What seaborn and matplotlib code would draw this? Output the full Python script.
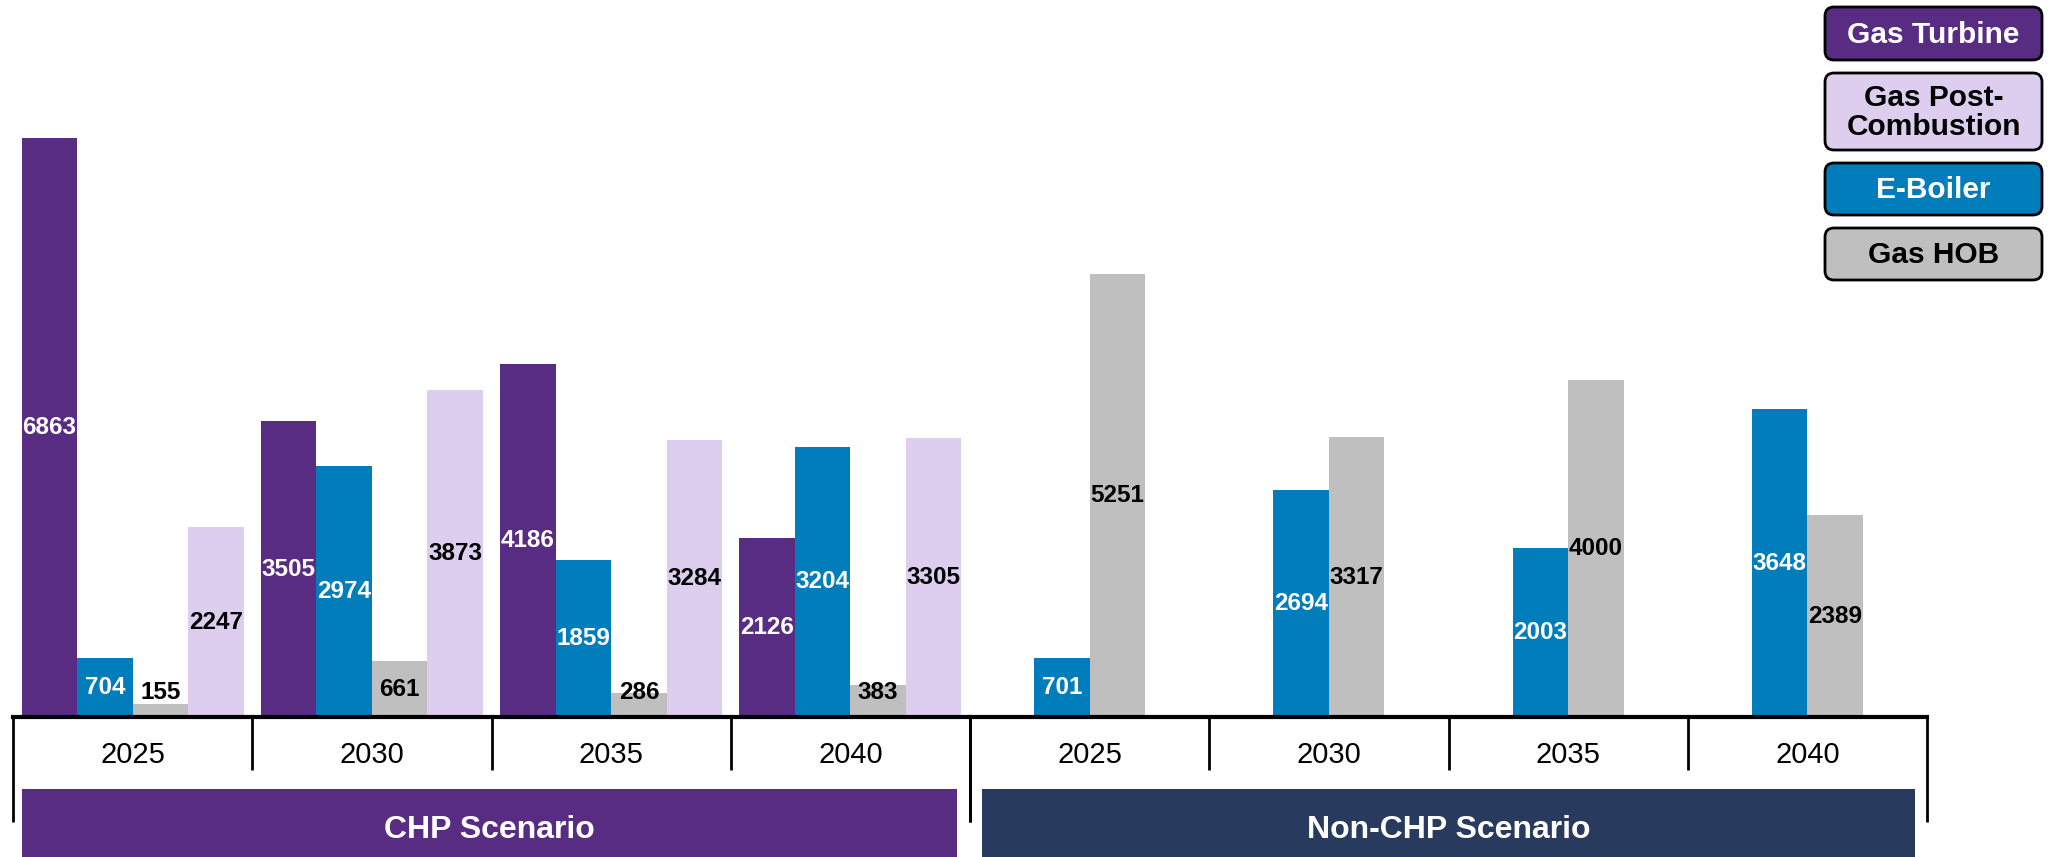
import numpy as np
import pandas as pd
import matplotlib
matplotlib.use("Agg")
import matplotlib.pyplot as plt
import matplotlib.transforms as mtransforms
from matplotlib.patches import FancyBboxPatch, Rectangle
import seaborn as sns

# ── Data ──────────────────────────────────────────────────────────────────────
years = ["2025", "2030", "2035", "2040"]

chp_gas_turbine = [6863, 3505, 4186, 2126]
chp_e_boiler    = [704, 2974, 1859, 3204]
chp_gas_hob     = [155, 661, 286, 383]
chp_gas_post    = [2247, 3873, 3284, 3305]

nonchp_e_boiler = [701, 2694, 2003, 3648]
nonchp_gas_hob  = [5251, 3317, 4000, 2389]

scenarios    = ["CHP Scenario", "Non-CHP Scenario"]
legend_names = ["Gas Turbine", "Gas Post-\nCombustion", "E-Boiler", "Gas HOB"]

# ── Style ─────────────────────────────────────────────────────────────────────
COLORS = {
    "Gas Turbine": "#582C83",
    "Gas Post-Combustion": "#DDCDEE",
    "E-Boiler": "#007DBA",
    "Gas HOB": "#BFBFBF",
}
TEXT_COLORS = {
    "Gas Turbine": "white",
    "Gas Post-Combustion": "black",
    "E-Boiler": "white",
    "Gas HOB": "black",
}
BANNER_COLORS = ["#582C83", "#283B5E"]

W, H = 2055, 857
BASE_Y = 717          # pixel row of the axis line
X0, XMID, X1 = 13, 970, 1927
YMAX = 8500
MIN_LABEL_Y = 295     # small bars get their label lifted to this value

sns.set_style("white")
plt.rcParams["font.family"] = ["Liberation Sans", "DejaVu Sans"]

chp_df = pd.DataFrame({
    "year": years * 4,
    "tech": (["Gas Turbine"] * 4 + ["E-Boiler"] * 4 + ["Gas HOB"] * 4
             + ["Gas Post-Combustion"] * 4),
    "value": chp_gas_turbine + chp_e_boiler + chp_gas_hob + chp_gas_post,
})
nonchp_df = pd.DataFrame({
    "year": years * 2,
    "tech": ["E-Boiler"] * 4 + ["Gas HOB"] * 4,
    "value": nonchp_e_boiler + nonchp_gas_hob,
})

fig = plt.figure(figsize=(W / 100, H / 100), dpi=100)
bottom = 1 - BASE_Y / H
ax_chp = fig.add_axes([X0 / W, bottom, (XMID - X0) / W, 1 - bottom])
ax_non = fig.add_axes([XMID / W, bottom, (X1 - XMID) / W, 1 - bottom])

panels = [
    (ax_chp, chp_df, ["Gas Turbine", "E-Boiler", "Gas HOB", "Gas Post-Combustion"], 0.928),
    (ax_non, nonchp_df, ["E-Boiler", "Gas HOB"], 0.464),
]

for ax, df, order, width in panels:
    sns.barplot(data=df, x="year", y="value", hue="tech", hue_order=order,
                order=years, palette=COLORS, width=width, dodge=True,
                saturation=1, linewidth=0, legend=False, ax=ax)
    ax.set_xlim(-0.5, len(years) - 0.5)
    ax.set_ylim(0, YMAX)
    ax.set_xlabel("")
    ax.set_ylabel("")
    ax.set_yticks([])
    ax.set_xticks([])
    for s in ["top", "right", "left"]:
        ax.spines[s].set_visible(False)
    ax.spines["bottom"].set_linewidth(3)
    ax.spines["bottom"].set_color("black")
    ax.patch.set_alpha(0)

    # value labels
    for tech, cont in zip(order, ax.containers):
        for bar in cont:
            h = bar.get_height()
            ax.text(bar.get_x() + bar.get_width() / 2, max(h / 2, MIN_LABEL_Y),
                    f"{h:.0f}", ha="center", va="center", fontsize=17.5,
                    fontweight="bold", color=TEXT_COLORS[tech])

    # year labels and separators below the axis
    trans = mtransforms.blended_transform_factory(ax.transData, ax.transAxes)
    ax_h = BASE_Y
    for i, yr in enumerate(years):
        ax.text(i, -(755 - BASE_Y) / ax_h, yr, transform=trans, ha="center",
                va="center", fontsize=21, color="black")
    for i in range(len(years) + 1):
        depth = 822 if i in (0, len(years)) else 770
        ax.plot([i - 0.5, i - 0.5], [0, -(depth - BASE_Y) / ax_h],
                transform=trans, color="black", lw=2, clip_on=False,
                solid_capstyle="butt")

# ── Overlay in pixel units for banners and legend ────────────────────────────
ov = fig.add_axes([0, 0, 1, 1])
ov.set_xlim(0, W)
ov.set_ylim(H, 0)
ov.axis("off")
ov.patch.set_alpha(0)

banners = [(22, 957), (982, 1915)]
for (bx0, bx1), name, col in zip(banners, scenarios, BANNER_COLORS):
    ov.add_patch(Rectangle((bx0, 789), bx1 - bx0, 80, facecolor=col,
                           edgecolor="none"))
    ov.text((bx0 + bx1) / 2, 830, name, ha="center", va="center",
            fontsize=23, fontweight="bold", color="white")

legend_boxes = [(7, 60), (73, 150), (163, 215), (228, 280)]
legend_keys = ["Gas Turbine", "Gas Post-Combustion", "E-Boiler", "Gas HOB"]
lx0, lx1 = 1825, 2042
for (ty, by), key, label in zip(legend_boxes, legend_keys, legend_names):
    ov.add_patch(FancyBboxPatch((lx0, ty), lx1 - lx0, by - ty,
                                boxstyle="round,pad=0,rounding_size=9",
                                facecolor=COLORS[key], edgecolor="black",
                                linewidth=2))
    ov.text((lx0 + lx1) / 2, (ty + by) / 2 + 1, label, ha="center",
            va="center", fontsize=21.5, fontweight="bold",
            color=TEXT_COLORS[key], linespacing=1.05)

fig.savefig("out.png", dpi=100)
